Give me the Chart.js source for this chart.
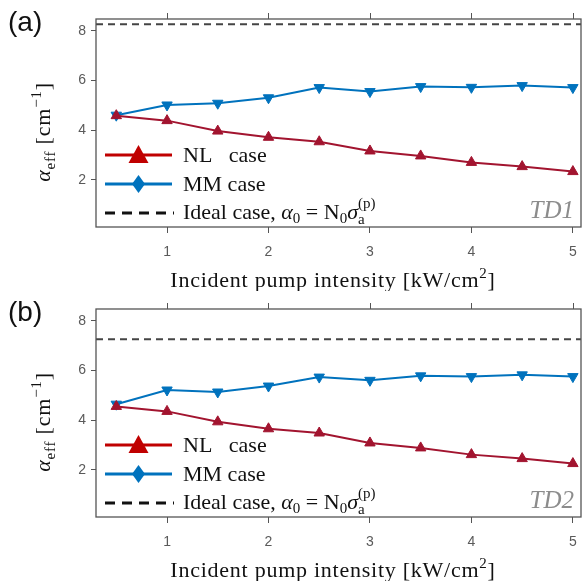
<!DOCTYPE html>
<html>
<head>
<meta charset="utf-8">
<script src="https://cdn.jsdelivr.net/npm/chart.js@4.4.0/dist/chart.umd.min.js"></script>
<style>
  body { margin: 0; background: #fff; }
  #wrap { position: relative; width: 588px; height: 582px; }
  .panel { position: absolute; left: 0; width: 588px; height: 291px; }
</style>
</head>
<body>
<div id="wrap">
  <div class="panel" style="top:0"><canvas id="chartA"></canvas></div>
  <div class="panel" style="top:290px"><canvas id="chartB"></canvas></div>
</div>
<script>
// pump intensity [kW/cm^2]
const intensity = [0.5, 1, 1.5, 2, 2.5, 3, 3.5, 4, 4.5, 5];

// TD1
const nlTD1 = [4.58, 4.38, 3.96, 3.71, 3.53, 3.16, 2.96, 2.70, 2.53, 2.33];
const mmTD1 = [4.60, 5.01, 5.08, 5.30, 5.71, 5.55, 5.75, 5.72, 5.79, 5.71];
const idealTD1 = 8.26;

// TD2
const nlTD2 = [4.55, 4.35, 3.93, 3.65, 3.48, 3.08, 2.88, 2.61, 2.45, 2.25];
const mmTD2 = [4.64, 5.21, 5.13, 5.37, 5.73, 5.60, 5.78, 5.75, 5.82, 5.75];
const idealTD2 = 7.25;

const xTicks = [1, 2, 3, 4, 5];
const yTicks = [2, 4, 6, 8];
const xRange = [0.3, 5.08];
const yRange = [0.1, 8.47];

const SERIF = '"Liberation Serif", "DejaVu Serif", serif';
const SANS = '"Liberation Sans", Arial, sans-serif';
const RED = '#A2142F';
const RED_LEG = '#C00000';
const BLUE = '#0072BD';

// draws a run of text pieces (sub/superscripts, italics) left to right
function drawRich(ctx, x, y, parts, align) {
  const fontOf = p => (p.it ? 'italic ' : '') + (p.size || 22) + 'px ' + SERIF;
  let w = 0;
  parts.forEach(p => {
    ctx.font = fontOf(p);
    if (!p.hold) w += ctx.measureText(p.t).width;
  });
  let cx = align === 'center' ? x - w / 2 : (align === 'right' ? x - w : x);
  parts.forEach(p => {
    ctx.font = fontOf(p);
    ctx.fillText(p.t, cx, y + (p.dy || 0));
    if (!p.hold) cx += ctx.measureText(p.t).width;
  });
}

const panelDeco = {
  id: 'panelDeco',
  afterDraw(chart, args, opts) {
    const { ctx, chartArea: a, scales } = chart;
    ctx.save();

    // axes box
    ctx.strokeStyle = '#555';
    ctx.lineWidth = 1.3;
    ctx.strokeRect(a.left, a.top, a.right - a.left, a.bottom - a.top);

    // x ticks mirrored on the top edge
    ctx.lineWidth = 1;
    ctx.beginPath();
    scales.x.ticks.forEach(t => {
      const px = Math.round(scales.x.getPixelForValue(t.value)) + 0.5;
      ctx.moveTo(px, a.top);
      ctx.lineTo(px, a.top - 6);
    });
    ctx.stroke();

    // legend
    const lx0 = a.left + 9, lx1 = a.left + 76, tx = a.left + 87;
    const rows = [a.top + 136, a.top + 165, a.top + 194];
    ctx.lineWidth = 3;

    ctx.strokeStyle = RED_LEG;
    ctx.beginPath(); ctx.moveTo(lx0, rows[0]); ctx.lineTo(lx1, rows[0]); ctx.stroke();
    const mx = (lx0 + lx1) / 2;
    ctx.fillStyle = RED_LEG;
    ctx.beginPath();
    ctx.moveTo(mx, rows[0] - 10);
    ctx.lineTo(mx + 10, rows[0] + 8);
    ctx.lineTo(mx - 10, rows[0] + 8);
    ctx.closePath(); ctx.fill();

    ctx.strokeStyle = BLUE;
    ctx.beginPath(); ctx.moveTo(lx0, rows[1]); ctx.lineTo(lx1, rows[1]); ctx.stroke();
    ctx.fillStyle = BLUE;
    ctx.beginPath();
    ctx.moveTo(mx, rows[1] - 9);
    ctx.lineTo(mx + 6.5, rows[1]);
    ctx.lineTo(mx, rows[1] + 9);
    ctx.lineTo(mx - 6.5, rows[1]);
    ctx.closePath(); ctx.fill();

    ctx.strokeStyle = '#111';
    ctx.setLineDash([10, 7]);
    ctx.beginPath(); ctx.moveTo(lx0, rows[2]); ctx.lineTo(lx1 + 2, rows[2]); ctx.stroke();
    ctx.setLineDash([]);

    ctx.fillStyle = '#111';
    ctx.textBaseline = 'alphabetic';
    ctx.textAlign = 'left';
    drawRich(ctx, tx, rows[0] + 7, [{ t: 'NL   case' }]);
    drawRich(ctx, tx, rows[1] + 7, [{ t: 'MM case' }]);
    drawRich(ctx, tx, rows[2] + 6, [
      { t: 'Ideal case, ' }, { t: 'α', it: true }, { t: '0', size: 15, dy: 4 },
      { t: ' = N' }, { t: '0', size: 15, dy: 4 }, { t: 'σ', it: true },
      { t: 'a', size: 15, dy: 5, hold: true }, { t: '(p)', size: 15, dy: -11 }
    ]);

    // dataset tag
    ctx.fillStyle = '#8c8c8c';
    drawRich(ctx, a.right - 7, a.top + 199, [{ t: opts.tag, it: true, size: 25 }], 'right');

    // axis titles
    ctx.fillStyle = '#111';
    ctx.letterSpacing = '0.75px';
    drawRich(ctx, 333, a.bottom + 60, [
      { t: 'Incident pump intensity [kW/cm' }, { t: '2', size: 15, dy: -9 }, { t: ']' }
    ], 'center');

    ctx.save();
    ctx.letterSpacing = '0.8px';
    ctx.translate(50, 132);
    ctx.rotate(-Math.PI / 2);
    drawRich(ctx, 0, 0, [
      { t: 'α', it: true }, { t: 'eff', size: 15, dy: 5 }, { t: ' [cm' },
      { t: '−1', size: 15, dy: -9 }, { t: ']' }
    ], 'center');
    ctx.restore();
    ctx.letterSpacing = '0px';

    // panel letter
    ctx.font = '28px ' + SANS;
    ctx.fillStyle = '#111';
    ctx.fillText(opts.label, 8, 31);

    ctx.restore();
  }
};

function makePanel(id, nl, mm, ideal, label, tag) {
  const pts = vals => intensity.map((x, i) => ({ x: x, y: vals[i] }));
  return new Chart(document.getElementById(id), {
    type: 'line',
    data: {
      datasets: [
        {
          label: 'Ideal case',
          data: [{ x: xRange[0], y: ideal }, { x: xRange[1], y: ideal }],
          borderColor: '#444',
          borderWidth: 2,
          borderDash: [7, 5],
          pointRadius: 0
        },
        {
          label: 'NL case',
          data: pts(nl),
          borderColor: RED,
          backgroundColor: RED,
          borderWidth: 2,
          pointStyle: 'triangle',
          pointRadius: 6,
          pointBorderWidth: 1
        },
        {
          label: 'MM case',
          data: pts(mm),
          borderColor: BLUE,
          backgroundColor: BLUE,
          borderWidth: 2,
          pointStyle: 'triangle',
          pointRotation: 180,
          pointRadius: 6,
          pointBorderWidth: 1
        }
      ]
    },
    options: {
      responsive: true,
      maintainAspectRatio: false,
      animation: false,
      layout: { padding: { left: 0, top: 19, right: 3, bottom: 0 } },
      plugins: {
        legend: { display: false },
        tooltip: { enabled: false },
        panelDeco: { label: label, tag: tag }
      },
      scales: {
        x: {
          type: 'linear',
          min: xRange[0],
          max: xRange[1],
          afterBuildTicks: s => { s.ticks = xTicks.map(v => ({ value: v })); },
          afterFit: s => { s.height = 64; },
          border: { display: false },
          grid: { drawOnChartArea: false, drawTicks: true, tickLength: 6, tickColor: '#555' },
          ticks: { color: '#5a5a5a', padding: 11, font: { family: SANS, size: 14 } }
        },
        y: {
          type: 'linear',
          min: yRange[0],
          max: yRange[1],
          afterBuildTicks: s => { s.ticks = yTicks.map(v => ({ value: v })); },
          afterFit: s => { s.width = 96; },
          border: { display: false },
          grid: { drawOnChartArea: false, drawTicks: true, tickLength: 5, tickColor: '#555' },
          ticks: { color: '#5a5a5a', padding: 5, font: { family: SANS, size: 14 } }
        }
      }
    },
    plugins: [panelDeco]
  });
}

makePanel('chartA', nlTD1, mmTD1, idealTD1, '(a)', 'TD1');
makePanel('chartB', nlTD2, mmTD2, idealTD2, '(b)', 'TD2');
</script>
</body>
</html>
